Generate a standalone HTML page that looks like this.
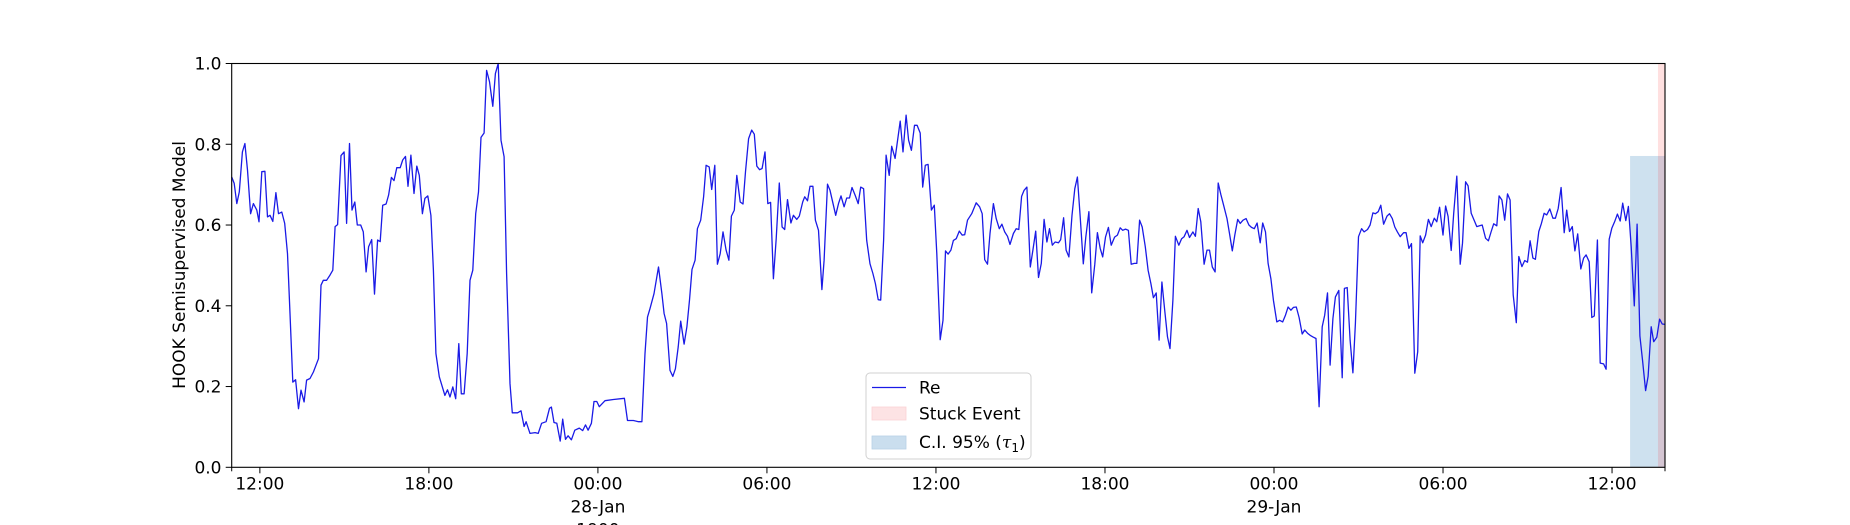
<!DOCTYPE html>
<html><head><meta charset="utf-8"><style>
html,body{margin:0;padding:0;background:#fff;}
svg{display:block;font-family:"DejaVu Sans","Liberation Sans",sans-serif;}
</style></head><body>
<svg id="chart" width="1850" height="525" viewBox="0 0 1850 525" xmlns="http://www.w3.org/2000/svg">
<g id="bands"></g>
<g id="series"></g>
<g id="axes"></g>
<text transform="translate(185,265) rotate(-90)" text-anchor="middle" font-size="17" fill="#000">HOOK Semisupervised Model</text>
<g>
<rect x="866" y="373" width="165" height="86" rx="4" fill="#fff" fill-opacity="0.8" stroke="#d0d0d0" stroke-width="1"/>
<line x1="872" y1="387.5" x2="906" y2="387.5" stroke="#1a1ae6" stroke-width="1.3"/>
<text x="919" y="393.5" font-size="17">Re</text>
<rect x="872" y="407" width="34" height="13" fill="#fde3e4" stroke="#fbd3d5" stroke-width="0.8"/>
<text x="919" y="419.5" font-size="17">Stuck Event</text>
<rect x="872" y="436" width="34" height="13" fill="#cadeee" stroke="#b8d1e6" stroke-width="0.8"/>
<text x="919" y="448" font-size="17">C.I. 95% (<tspan font-family="DejaVu Serif, Liberation Serif, serif" font-style="italic">τ</tspan><tspan font-size="12" dy="4">1</tspan><tspan dy="-4">)</tspan></text>
</g>
</svg>
<script>
const hours = [0,.09,.18,.27,.38,.47,.56,.67,.77,.89,.97,1.07,1.18,1.27,1.36,1.46,1.57,1.66,1.78,1.88,1.98,2.07,2.17,2.27,2.37,2.46,2.57,2.66,2.78,2.90,3.08,3.17,3.25,3.37,3.49,3.59,3.67,3.76,3.88,3.99,4.08,4.18,4.27,4.37,4.46,4.58,4.67,4.77,4.86,4.97,5.07,5.18,5.27,5.36,5.48,5.57,5.67,5.76,5.86,5.98,
6.07,6.17,6.26,6.36,6.47,6.57,6.66,6.77,6.86,6.96,7.07,7.16,7.25,7.37,7.57,7.66,7.75,7.85,7.95,8.06,8.15,8.25,8.36,8.46,8.56,8.66,8.76,8.85,8.96,9.05,9.15,9.27,9.36,9.46,9.56,9.67,9.76,9.88,
9.96,10.15,10.27,10.38,10.45,10.59,10.77,10.88,11.0,11.16,11.28,11.35,11.44,11.54,11.66,11.75,11.85,11.94,12.06,12.18,12.34,12.46,12.56,12.65,12.77,12.86,12.96,13.05,13.25,13.55,13.94,14.05,14.26,14.44,14.56,
14.67,14.76,14.85,14.99,15.15,15.27,15.35,15.44,15.56,15.66,15.75,15.85,15.94,16.06,16.16,16.25,16.34,16.45,16.53,16.65,16.75,16.84,16.95,17.04,17.15,17.24,17.34,17.44,17.55,17.65,17.74,17.84,17.93,18.05,18.15,18.24,18.35,18.46,18.55,18.64,18.74,18.83,18.93,19.03,19.13,19.23,19.33,19.44,19.54,19.63,19.73,19.85,19.94,
20.06,20.15,20.27,20.34,20.44,20.53,20.63,20.72,20.83,20.95,21.03,21.15,21.24,21.36,21.44,21.54,21.63,21.74,21.83,21.93,22.02,22.13,22.24,22.33,22.43,22.54,22.66,22.76,22.85,22.95,23.04,23.14,23.23,23.34,23.43,23.55,23.73,23.83,23.94,24.03,24.13,24.24,24.33,24.44,24.53,24.62,24.72,24.84,24.94,25.03,25.15,25.25,25.34,25.43,25.53,25.62,25.72,25.83,25.93,26.02,26.12,26.27,26.43,26.55,26.64,26.73,26.83,26.92,27.04,
27.14,27.25,27.34,27.44,27.54,27.63,27.75,27.85,27.94,28.04,28.13,28.23,28.35,28.44,28.54,28.64,28.74,28.84,28.94,29.03,29.13,29.23,29.35,29.43,29.53,29.62,29.72,29.83,29.93,30.02,30.12,30.23,30.32,30.43,30.53,30.64,30.73,30.83,30.92,31.02,31.12,31.22,31.34,31.44,31.54,31.63,31.73,31.83,31.93,32.04,32.13,32.23,32.32,32.43,32.53,32.63,32.72,32.82,32.92,33.02,33.12,33.22,33.31,33.41,33.50,33.62,33.72,33.81,33.91,34.00,
34.12,34.21,34.31,34.40,34.52,34.62,34.71,34.81,34.91,35.02,35.11,35.21,35.33,35.42,35.52,35.61,35.71,35.80,35.90,36.01,36.11,36.20,36.30,36.40,36.51,36.60,36.70,36.79,36.89,36.98,37.10,37.20,37.31,37.41,37.50,37.60,37.69,37.79,37.89,38.00,38.09,38.19,38.28,38.38,38.49,38.60,38.71,38.80,38.90,38.99,39.09,39.18,39.30,39.42,39.50,39.60,39.70,39.80,39.89,40.00,40.11,40.20,40.32,40.41,40.51,40.60,40.70,40.79,40.89,41.01,41.10,41.20,41.29,41.38,41.48,41.60,41.69,41.79,41.88,
42.0,42.1,42.19,42.28,42.38,42.48,42.58,42.69,42.78,42.88,43.0,43.09,43.18,43.29,43.38,43.49,43.61,43.69,43.80,43.89,44.0,44.11,44.20,44.30,44.39,44.51,44.61,44.71,44.80,44.91,44.99,45.09,45.19,45.29,45.38,45.49,45.60,45.69,45.80,45.90,46.0,46.09,46.19,46.28,46.40,46.49,46.59,46.68,46.79,46.90,46.99,47.09,47.19,47.30,47.39,47.49,47.59,47.68,47.78,47.89,47.99,48.08,48.19,48.28,48.37,48.48,48.58,48.70,48.79,48.90,48.99,49.09,49.19,49.29,49.38,49.49,49.58,49.68,49.79,49.89,49.99,50.08,50.19,50.28,50.39,50.48,50.59,50.69,50.78,50.88];
const values = [.719,.703,.653,.682,.781,.802,.736,.628,.653,.637,.608,.732,.733,.620,.624,.609,.680,.628,.632,.604,.529,.381,.211,.217,.145,.191,.162,.216,.220,.236,.269,.451,.463,.463,.476,.488,.596,.601,.772,.781,.604,.802,.637,.657,.600,.600,.583,.484,.546,.564,.429,.563,.559,.649,.652,.674,.718,.710,.742,.742,
.761,.770,.696,.773,.678,.746,.723,.628,.666,.672,.624,.488,.282,.224,.178,.192,.174,.199,.170,.306,.182,.182,.282,.463,.488,.628,.682,.817,.828,.983,.955,.894,.975,1.0,.810,.769,.480,.207,
.135,.135,.140,.101,.113,.084,.086,.084,.109,.113,.146,.149,.111,.109,.065,.119,.069,.078,.068,.092,.097,.091,.105,.092,.109,.163,.163,.150,.165,.168,.171,.116,.116,.113,.113,
.282,.372,.393,.430,.496,.430,.381,.356,.240,.225,.244,.298,.362,.305,.348,.414,.490,.513,.591,.612,.670,.748,.744,.688,.748,.503,.529,.583,.538,.513,.622,.637,.723,.657,.652,.732,.814,.835,.825,.746,.737,.740,.781,.653,.656,.467,.566,.704,.595,.589,.663,.605,.624,
.614,.622,.657,.670,.660,.696,.696,.612,.587,.440,.513,.701,.686,.649,.624,.653,.672,.645,.667,.667,.693,.674,.653,.694,.690,.562,.504,.480,.455,.415,.414,.562,.773,.723,.795,.765,.857,.781,.872,.810,.785,.847,.847,.828,.694,.748,.750,.637,.649,.529,.316,.364,.536,.528,.538,.562,.566,.585,.575,.576,.612,.628,.655,.645,.628,.514,.503,.579,.653,
.616,.591,.602,.583,.572,.552,.579,.591,.589,.671,.686,.694,.496,.538,.585,.470,.505,.614,.558,.591,.550,.558,.556,.564,.618,.538,.521,.624,.690,.719,.620,.504,.570,.633,.432,.503,.581,.542,.521,.570,.594,.550,.570,.575,.593,.587,.590,.587,.503,.505,.505,.612,.595,.546,.488,.455,.420,.432,.315,.459,.389,.323,.294,.414,.572,.550,.566,.571,.587,.569,
.583,.572,.641,.608,.503,.538,.538,.496,.484,.704,.676,.649,.616,.579,.536,.575,.614,.604,.612,.616,.600,.594,.591,.605,.556,.605,.583,.505,.467,.414,.360,.364,.360,.377,.397,.389,.396,.397,.371,.330,.340,.332,.327,.323,.319,.150,.348,.377,.432,.253,.368,.422,.438,.222,.443,.445,.315,.234,.356,.571,.591,.583,.589,.600,.630,.628,.633,.649,.602,.622,.628,.616,.595,.583,.571,.581,.581,.542,.554,
.233,.286,.573,.556,.575,.614,.596,.617,.608,.644,.575,.647,.621,.537,.629,.721,.503,.555,.707,.697,.629,.611,.596,.598,.600,.567,.561,.584,.603,.598,.672,.662,.612,.677,.662,.427,.358,.522,.497,.512,.508,.561,.518,.515,.584,.603,.629,.625,.640,.617,.617,.641,.693,.581,.637,.584,.596,.536,.578,.491,.518,.526,.509,.371,.375,.563,.258,.256,.243,.565,.592,.608,.627,.610,.654,.611,.646,.546,.400,.602,.325,.266,.190,.225,.348,.311,.322,.367,.355,.354];
const xTickHours = [1,7,13,19,25,31,37,43,49];
const xTickLabels = [["12:00"],["18:00"],["00:00","28-Jan","1900"],["06:00"],["12:00"],["18:00"],["00:00","29-Jan"],["06:00"],["12:00"]];
const yTickValues = [0,0.2,0.4,0.6,0.8,1.0];
const yTickLabels = ["0.0","0.2","0.4","0.6","0.8","1.0"];
const ciBand = [49.64, 50.88];
const ciUpper = [0.771];
const stuckBand = [50.63, 50.88];
const xDomain = [0, 50.88];

const L=231.7, R=1665, T=63.5, B=467.3;
const NS="http://www.w3.org/2000/svg";
function xs(h){return L+(h-xDomain[0])/(xDomain[1]-xDomain[0])*(R-L);}
function ys(v){return B-v*(B-T);}
function mk(tag,attrs,parent){const e=document.createElementNS(NS,tag);for(const k in attrs)e.setAttribute(k,attrs[k]);parent.appendChild(e);return e;}

const bands=document.getElementById('bands');
const ci=mk('rect',{x:xs(ciBand[0]),y:ys(ciUpper[0]),width:xs(ciBand[1])-xs(ciBand[0]),height:B-ys(ciUpper[0]),fill:'#1f77b4','fill-opacity':0.22},bands);


const st=mk('rect',{x:xs(stuckBand[0]),y:T,width:xs(stuckBand[1])-xs(stuckBand[0]),height:B-T,fill:'#ff0000','fill-opacity':0.12},bands);



const series=document.getElementById('series');
let d='';
for(let i=0;i<hours.length;i++){d+=(i?'L':'M')+xs(hours[i]).toFixed(1)+','+ys(values[i]).toFixed(1);}
const line=mk('path',{d:d,fill:'none',stroke:'#1a1ae6','stroke-width':1.3,'stroke-linejoin':'round'},series);



const axes=document.getElementById('axes');
const frame=mk('rect',{x:L,y:T,width:R-L,height:B-T,fill:'none',stroke:'#000','stroke-width':1.1},axes);


xTickHours.forEach((h,i)=>{
  const x=xs(h);
  const t=mk('line',{x1:x,y1:B,x2:x,y2:B+6,stroke:'#000','stroke-width':1},axes);
  
  
  xTickLabels[i].forEach((s,j)=>{
    const tx=mk('text',{x:x,y:489.5+j*23,'text-anchor':'middle','font-size':17},axes);
    tx.textContent=s;
    
    
  });
});
[xDomain[0],xDomain[1]].forEach(h=>{
  const t=mk('line',{x1:xs(h),y1:B,x2:xs(h),y2:B+4,stroke:'#000','stroke-width':1},axes);
  
  
});
yTickValues.forEach((v,i)=>{
  const y=ys(v);
  const t=mk('line',{x1:L-6,y1:y,x2:L,y2:y,stroke:'#000','stroke-width':1},axes);
  
  
  const tx=mk('text',{x:221.5,y:y+6,'text-anchor':'end','font-size':17},axes);
  tx.textContent=yTickLabels[i];
  
  
});
</script>
</body></html>
